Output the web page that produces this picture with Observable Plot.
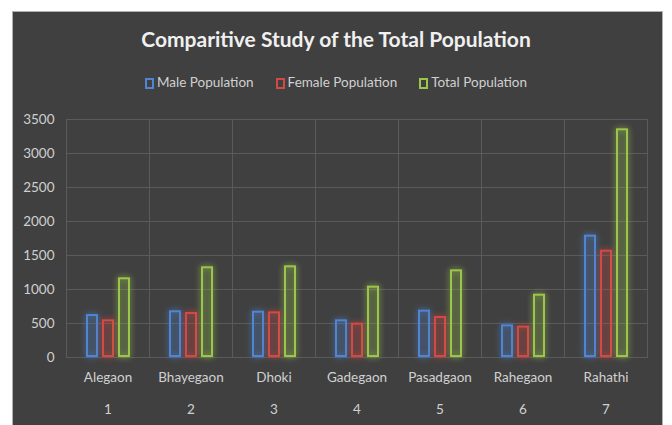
<!DOCTYPE html>
<html>
<head>
<meta charset="utf-8">
<script src="https://cdn.jsdelivr.net/npm/d3@7"></script>
<script src="https://cdn.jsdelivr.net/npm/@observablehq/plot@0.6"></script>
<style>
  html, body { margin: 0; padding: 0; background: #ffffff; }
  #wrap { position: relative; width: 672px; height: 425px; overflow: hidden; background: #fff; }
  #panel { position: absolute; left: 12px; top: 11px; width: 651px; height: 420px; background: #404040; border: 1px solid #b0b0b0; box-sizing: border-box; }
  #title { position: absolute; left: 0; width: 672px; top: 26px; text-align: center; font-family: Lato, "Open Sans", sans-serif; font-weight: bold; font-size: 21px; color: #f0f0f0; }
  #legend { position: absolute; left: 0; width: 672px; top: 74px; text-align: center; font-family: Lato, "Open Sans", sans-serif; font-size: 13.5px; color: #d0d0d0; }
  #legend span.item { display: inline-block; margin: 0 11px; }
  #legend span.sw { display: inline-block; width: 9px; height: 11px; border: 2px solid; margin-right: 3px; vertical-align: -2px; box-sizing: border-box; }
  #chart { position: absolute; left: 0; top: 100px; }
</style>
</head>
<body>
<div id="wrap">
  <div id="panel"></div>
  <div id="title">Comparitive Study of the Total Population</div>
  <div id="legend"></div>
  <div id="chart"></div>
</div>
<script>
const villages = ["Alegaon", "Bhayegaon", "Dhoki", "Gadegaon", "Pasadgaon", "Rahegaon", "Rahathi"];
const villageNumbers = ["1", "2", "3", "4", "5", "6", "7"];
const seriesNames = ["Male Population", "Female Population", "Total Population"];
const malePopulation = [632, 687, 681, 554, 696, 480, 1799];
const femalePopulation = [554, 662, 671, 505, 603, 461, 1578];
const totalPopulation = [1172, 1334, 1348, 1049, 1289, 931, 3363];
const yTicks = [0, 500, 1000, 1500, 2000, 2500, 3000, 3500];
const seriesColors = ["#4f85d2", "#d24a45", "#9cc64b"];

const seriesValues = [malePopulation, femalePopulation, totalPopulation];
const rows = [];
villages.forEach((v, i) => {
  seriesNames.forEach((s, j) => {
    rows.push({village: v, series: s, value: seriesValues[j][i]});
  });
});
const numberRows = villages.map((v, i) => ({village: v, num: villageNumbers[i]}));

// legend
const legend = document.getElementById("legend");
seriesNames.forEach((s, j) => {
  const item = document.createElement("span");
  item.className = "item";
  const sw = document.createElement("span");
  sw.className = "sw";
  sw.style.borderColor = seriesColors[j];
  item.appendChild(sw);
  item.appendChild(document.createTextNode(s));
  legend.appendChild(item);
});

const grid = "#5a5a5a";
const chart = Plot.plot({
  width: 672,
  height: 325,
  marginLeft: 65,
  marginRight: 24,
  marginTop: 19,
  marginBottom: 68,
  style: {background: "transparent", color: "#d0d0d0", fontFamily: "Lato, 'Open Sans', sans-serif", fontSize: "13.5px"},
  fx: {domain: villages, label: null, axis: "bottom", tickSize: 0, tickPadding: 15, padding: 0},
  x: {domain: seriesNames, axis: null, paddingInner: 0.25, paddingOuter: 1.12},
  y: {domain: [0, 3500], ticks: yTicks, tickFormat: d => String(d), tickSize: 0, tickPadding: 12, label: null},
  color: {domain: seriesNames, range: seriesColors},
  marks: [
    Plot.ruleY(yTicks, {stroke: grid, strokeWidth: 1}),
    Plot.frame({stroke: grid, strokeWidth: 1}),
    Plot.barY(rows, {fx: "village", x: "series", y: "value", stroke: "series", fill: "series", fillOpacity: 0.06, strokeWidth: 2, inset: 1}),
    Plot.text(numberRows, {fx: "village", text: "num", frameAnchor: "bottom", dy: 56, fill: "#d0d0d0", fontSize: 13.5})
  ]
});
document.getElementById("chart").appendChild(chart);

d3.select(chart).selectAll("rect").each(function() {
  const s = this.getAttribute("stroke");
  if (s && seriesColors.includes(s)) {
    this.style.filter = `drop-shadow(0 0 3px ${s})`;
  }
});
</script>
</body>
</html>
